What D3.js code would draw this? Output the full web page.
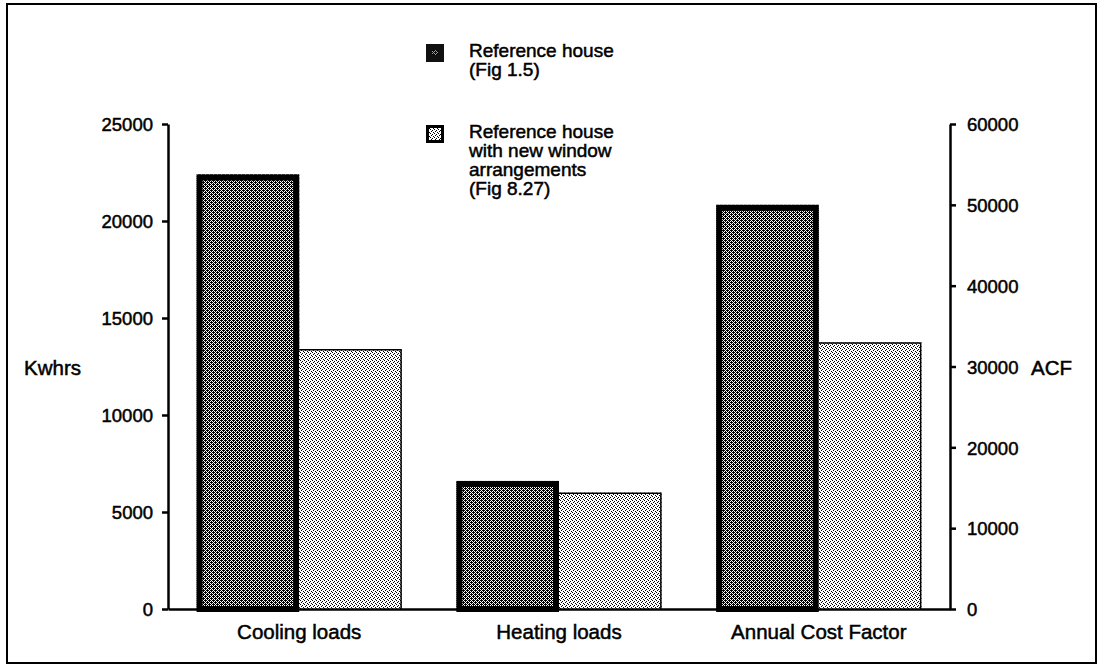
<!DOCTYPE html>
<html>
<head>
<meta charset="utf-8">
<script src="https://cdn.jsdelivr.net/npm/d3@7/dist/d3.min.js"></script>
<style>
  html, body { margin: 0; padding: 0; background: #fff; }
  svg { display: block; }
  text { font-family: "Liberation Sans", Arial, Helvetica, sans-serif; fill: #000; }
</style>
</head>
<body>
<script>
// Energy loads and annual cost factor for the reference house
const categories = ["Cooling loads", "Heating loads", "Annual Cost Factor"];
const referenceHouse = [22400, 6600, 50000];   // Kwhrs, Kwhrs, ACF
const newWindows = [13400, 6000, 33000];       // Kwhrs, Kwhrs, ACF
const valueAxis = ["left", "left", "right"];   // which axis each category is read on
const leftTicks = [0, 5000, 10000, 15000, 20000, 25000];
const rightTicks = [0, 10000, 20000, 30000, 40000, 50000, 60000];
const legendLabels = [
  ["Reference house", "(Fig 1.5)"],
  ["Reference house", "with new window", "arrangements", "(Fig 8.27)"]
];

const W = 1098, H = 666;
const plotLeft = 168, plotRight = 950, plotTop = 124, plotBottom = 609;

const svg = d3.select("body").append("svg")
  .attr("width", W).attr("height", H);

// halftone-like fills
const defs = svg.append("defs");
const dark = defs.append("pattern").attr("id", "darkDots")
  .attr("patternUnits", "userSpaceOnUse").attr("width", 4).attr("height", 4);
dark.append("rect").attr("width", 4).attr("height", 4).attr("fill", "#fff");
[[0, 0], [2, 0], [1, 1], [3, 1], [0, 2], [2, 2], [1, 3], [3, 3], [1, 0], [3, 2]].forEach(([px, py]) =>
  dark.append("rect").attr("x", px).attr("y", py).attr("width", 1).attr("height", 1).attr("fill", "#000"));

const light = defs.append("pattern").attr("id", "lightDots")
  .attr("patternUnits", "userSpaceOnUse").attr("width", 4).attr("height", 4);
light.append("rect").attr("width", 4).attr("height", 4).attr("fill", "#fff");
[[0, 0], [2, 1], [1, 2], [3, 3]].forEach(([px, py]) =>
  light.append("rect").attr("x", px).attr("y", py).attr("width", 1).attr("height", 1).attr("fill", "#000"));

// outer frame
svg.append("rect").attr("x", 7).attr("y", 4).attr("width", 1089).attr("height", 659)
  .attr("fill", "none").attr("stroke", "#000").attr("stroke-width", 2);

const x = d3.scaleBand().domain(categories).range([plotLeft, plotRight])
  .paddingInner(0.21).paddingOuter(0.11);
const yLeft = d3.scaleLinear().domain([0, 25000]).range([plotBottom, plotTop]);
const yRight = d3.scaleLinear().domain([0, 60000]).range([plotBottom, plotTop]);
const sub = d3.scaleBand().domain([0, 1]).range([0, x.bandwidth()]);

const rows = categories.map((c, i) => ({
  cat: c, ref: referenceHouse[i], nw: newWindows[i],
  y: valueAxis[i] === "left" ? yLeft : yRight
}));

const g = svg.append("g");
// reference house bars: heavy black outline around the dark screen
rows.forEach(r => {
  const x0 = x(r.cat) + sub(0), w = sub.bandwidth();
  const yt = r.y(r.ref);
  g.append("rect").attr("x", x0).attr("y", yt).attr("width", w).attr("height", plotBottom - yt)
    .attr("fill", "url(#darkDots)");
  g.append("rect").attr("x", x0 + 3).attr("y", yt + 3).attr("width", w - 6).attr("height", plotBottom - yt - 3)
    .attr("fill", "none").attr("stroke", "#000").attr("stroke-width", 6);
});
// new window arrangement bars: light screen with a thin edge
rows.forEach(r => {
  const x0 = x(r.cat) + sub(1), w = sub.bandwidth();
  const yt = r.y(r.nw);
  g.append("rect").attr("x", x0).attr("y", yt).attr("width", w).attr("height", plotBottom - yt)
    .attr("fill", "url(#lightDots)");
  g.append("path")
    .attr("d", `M${x0},${yt + 0.75}H${x0 + w - 0.75}V${plotBottom}`)
    .attr("fill", "none").attr("stroke", "#000").attr("stroke-width", 1.5);
});

const tickSize = 18.5, labelSize = 20.5;
const heavy = (sel, size) => sel
  .attr("stroke", "#000").attr("stroke-width", 0.5)
  .style("font-size", size + "px");

// left axis (Kwhrs)
const axL = svg.append("g").attr("transform", `translate(${plotLeft},0)`)
  .call(d3.axisLeft(yLeft).tickValues(leftTicks).tickFormat(d3.format("d"))
    .tickSize(6).tickSizeOuter(0).tickPadding(9));
axL.select(".domain").attr("stroke-width", 2.5);
axL.selectAll(".tick line").attr("stroke-width", 2.5);
heavy(axL.selectAll("text"), tickSize).attr("dy", "0.36em");

// right axis (ACF)
const axR = svg.append("g").attr("transform", `translate(${plotRight},0)`)
  .call(d3.axisRight(yRight).tickValues(rightTicks).tickFormat(d3.format("d"))
    .tickSize(6).tickSizeOuter(0).tickPadding(11));
axR.select(".domain").attr("stroke-width", 2.5);
axR.selectAll(".tick line").attr("stroke-width", 2.5);
heavy(axR.selectAll("text"), tickSize).attr("dy", "0.36em");

// baseline and category labels
const axB = svg.append("g").attr("transform", `translate(0,${plotBottom})`)
  .call(d3.axisBottom(x).tickSize(0).tickSizeOuter(0).tickPadding(15));
axB.select(".domain").attr("stroke-width", 2.5);
heavy(axB.selectAll("text"), labelSize);

// axis titles
heavy(svg.append("text").attr("x", 24).attr("y", 375).text("Kwhrs"), labelSize);
heavy(svg.append("text").attr("x", 1031).attr("y", 375).text("ACF"), labelSize);

// legend
const legend = svg.append("g");
const lg1 = legend.append("g").attr("transform", "translate(426,44)");
lg1.append("rect").attr("width", 18).attr("height", 18).attr("fill", "#111");
lg1.append("rect").attr("x", 6).attr("y", 6).attr("width", 6).attr("height", 5).attr("fill", "url(#darkDots)").attr("opacity", 0.6);
const lg2 = legend.append("g").attr("transform", "translate(426,125)");
lg2.append("rect").attr("width", 18).attr("height", 18).attr("fill", "#000");
lg2.append("rect").attr("x", 3).attr("y", 3).attr("width", 12).attr("height", 12).attr("fill", "url(#lightDots)");

const legendBase = [57, 138];
const lineGap = 19;
legendLabels.forEach((lines, i) => {
  lines.forEach((s, j) =>
    heavy(legend.append("text").attr("x", 469).attr("y", legendBase[i] + j * lineGap).text(s), 19));
});
</script>
</body>
</html>
